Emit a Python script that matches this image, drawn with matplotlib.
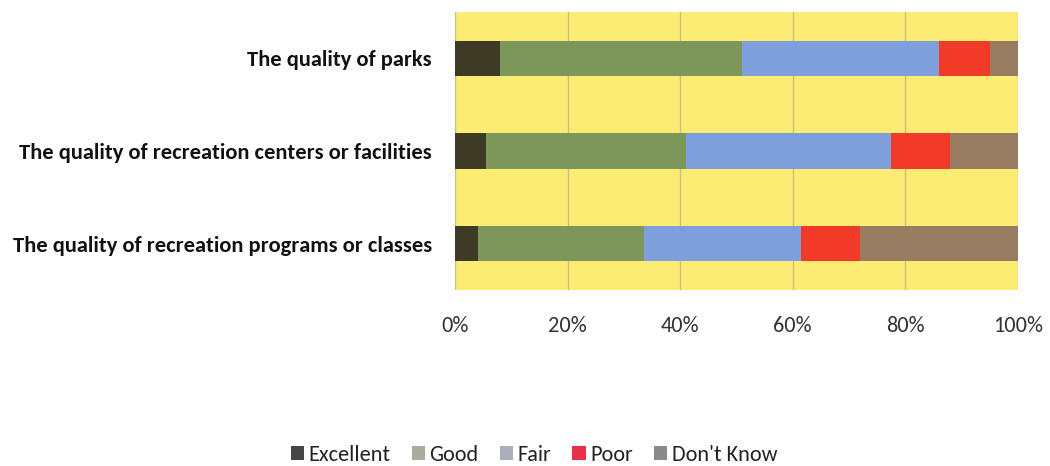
import matplotlib
matplotlib.use("Agg")
import matplotlib.pyplot as plt
from matplotlib.patches import Patch
import numpy as np

categories = ["The quality of parks",
              "The quality of recreation centers or facilities",
              "The quality of recreation programs or classes"]
series = ["Excellent", "Good", "Fair", "Poor", "Don't Know"]
excellent = [8, 5.5, 4]
good = [43, 35.5, 29.5]
fair = [35, 36.5, 28]
poor = [9, 10.5, 10.5]
dont_know = [5, 12, 28]
values = [excellent, good, fair, poor, dont_know]
tick_labels = ["0%", "20%", "40%", "60%", "80%", "100%"]

bar_colors = ["#3d3b26", "#7d9659", "#7f9fdc", "#f23a29", "#977c62"]
legend_colors = ["#454545", "#a8ad9c", "#a9aebd", "#e8304a", "#8a8a8a"]
FAM = ["Carlito", "IBM Plex Sans Condensed", "DejaVu Sans"]

fig = plt.figure(figsize=(10.5, 4.66), dpi=100)
ax = fig.add_axes([455/1050, 1-290/466, (1018-455)/1050, 278/466])
ax.set_facecolor("#fdec74")

y = np.arange(len(categories))
left = np.zeros(len(categories))
for vals, c in zip(values, bar_colors):
    ax.barh(y, vals, left=left, height=0.38, color=c, zorder=3)
    left += np.array(vals)

ax.set_xlim(0, 100)
ax.set_ylim(2.5, -0.5)
ax.set_xticks(np.arange(0, 101, 20))
ax.set_xticklabels(tick_labels)
ax.set_yticks(y)
ax.set_yticklabels(categories)
for s in ax.spines.values():
    s.set_visible(False)
ax.grid(axis="x", color="#c9bf86", linewidth=1, zorder=1)
ax.tick_params(axis="both", length=0)
ax.tick_params(axis="x", pad=19, colors="#333333")
ax.tick_params(axis="y", pad=16.5)
for lab in ax.get_xticklabels():
    lab.set_family(FAM)
    lab.set_fontsize(16)
for lab in ax.get_yticklabels():
    lab.set_family(FAM)
    lab.set_fontsize(16.2)
    lab.set_fontweight("bold")
    lab.set_color("#111111")

handles = [Patch(facecolor=c, edgecolor="none") for c in legend_colors]
fig.legend(handles, series, loc="center", bbox_to_anchor=(534/1050, 1-455/466),
           ncol=5, frameon=False, handlelength=0.6, handleheight=0.6,
           handletextpad=0.2, columnspacing=0.95,
           prop={"family": FAM, "size": 16})
for t in fig.legends[0].get_texts():
    t.set_color("#222222")

fig.savefig("out.png", dpi=100, facecolor="white")
